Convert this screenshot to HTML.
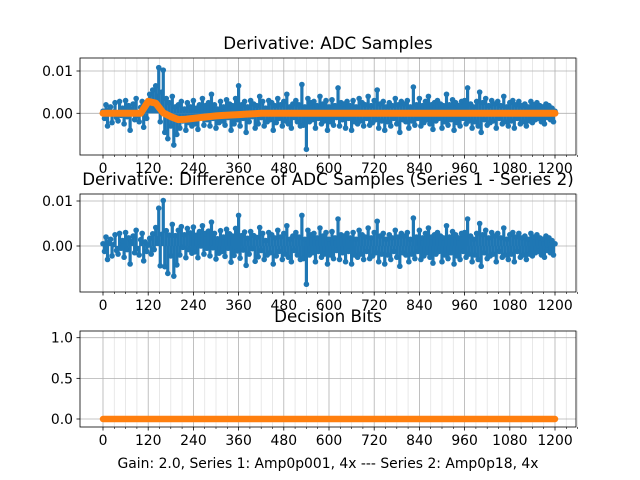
<!DOCTYPE html>
<html><head><meta charset="utf-8"><style>
body{margin:0;background:#fff;}
svg{display:block;font-family:"DejaVu Sans","Liberation Sans",sans-serif;}
</style></head><body>
<svg id="fig" width="640" height="480"></svg>
<script>
const xTicks=[0,120,240,360,480,600,720,840,960,1080,1200];
const s1Ticks=[0.01,0.0],s1TickLabels=["0.01","0.00"];
const s2Ticks=[0.01,0.0],s2TickLabels=["0.01","0.00"];
const s3Ticks=[1.0,0.5,0.0],s3TickLabels=["1.0","0.5","0.0"];
// Series 1 derivative (units of 1e-4), every 4 samples
const blue=[5,-12,20,-30,8,15,-22,3,25,-10,
-18,28,-5,12,-25,30,-8,18,-40,10,
22,-15,35,-6,-20,14,28,-33,9,-12,
30,45,10,55,20,65,40,108,-20,50,
102,-45,35,-60,25,-30,40,-75,15,-50,
20,-35,28,-18,10,-40,25,-22,15,-30,
30,-25,12,-38,20,-10,35,-28,18,-15,
25,-30,45,-12,20,-35,10,-22,28,-18,
15,-28,32,-10,22,-40,18,-25,35,-15,
65,-30,20,-12,28,-45,15,-20,30,-8,
22,-35,18,-25,40,-10,28,-30,12,-20,
30,-15,25,-40,18,-22,35,-12,20,-30,
28,-18,45,-25,15,-35,22,-10,30,-20,
20,-30,68,-28,15,-85,35,-20,25,-15,
28,-35,18,-12,40,-25,22,-18,30,-40,
15,-20,32,-28,18,-10,60,-30,25,-15,
22,-35,28,-12,18,-40,30,-20,15,-25,
35,-18,25,-30,20,-12,40,-28,18,-22,
30,-15,55,-35,22,-18,28,-40,15,-20,
25,-30,18,-12,35,-25,20,-45,28,-15,
22,-20,30,-35,15,-18,62,-28,20,-12,
35,-30,18,-22,28,-15,40,-25,20,-38,
25,-18,30,-12,22,-35,18,-20,45,-28,
20,-15,32,-40,25,-22,18,-30,28,-12,
30,-25,60,-18,22,-35,15,-20,28,-30,
50,-45,25,-15,35,-28,18,-22,30,-18,
22,-35,28,-12,18,-25,40,-20,15,-30,
25,-18,30,-35,20,-12,28,-25,18,-20,
22,-30,15,-18,28,-22,20,-15,25,-12,
18,-20,15,-25,22,-10,18,-15,12,-20,5];
// Series 2 derivative (units of 1e-4), every 20 samples
const orange=[0,0,0,0,0,0,28,24,1,-8,-15,-14,-12,-10,-8,-6,-5,-4,-3,-2,-1,
0,0,0,0,0,0,0,0,0,0,0,0,0,0,0,0,0,0,0,0,0,0,0,0,0,0,0,0,0,0,0,0,0,0,0,0,0,0,0,0];
const bits=[0,0,0,0,0,0,0,0,0,0,0,0,0,0,0,0,0,0,0,0,0,0,0,0,0,0,0,0,0,0,0];
const BSTEP=4,OSTEP=20,DSTEP=40;

const NS="http://www.w3.org/2000/svg";
const svg=document.getElementById('fig');
function mk(t,a,p){const e=document.createElementNS(NS,t);for(const k in a)e.setAttribute(k,a[k]);(p||svg).appendChild(e);return e;}
const X=v=>103+v*(452/1200);
const axes=[
 {top:58,bot:155,y0:113.3,k:42.3/0.01,title:"Derivative: ADC Samples",ty:49,ticks:s1Ticks,tl:s1TickLabels,name:"adc-samples"},
 {top:194,bot:292,y0:246,k:45/0.01,title:"Derivative: Difference of ADC Samples (Series 1 - Series 2)",ty:185,ticks:s2Ticks,tl:s2TickLabels,name:"difference"},
 {top:331,bot:427,y0:419,k:81.3,title:"Decision Bits",ty:322,ticks:s3Ticks,tl:s3TickLabels,name:"decision-bits"}];
axes.forEach((a,ai)=>{
 const g=mk('g',{});
 
 
 const Y=v=>a.y0-v*a.k;
 for(let v=0;v<=1260;v+=30){if(v%120===0)continue;const x=X(v);
  const l=mk('line',{x1:x,x2:x,y1:a.top,y2:a.bot,stroke:'#e3e3e3','stroke-width':0.8},g);
  
  mk('line',{x1:x,x2:x,y1:a.bot,y2:a.bot+2,stroke:'#000','stroke-width':0.6},g);}
 xTicks.forEach(v=>{const x=X(v);
  const l=mk('line',{x1:x,x2:x,y1:a.top,y2:a.bot,stroke:'#b0b0b0','stroke-width':0.8},g);
  
  mk('line',{x1:x,x2:x,y1:a.bot,y2:a.bot+3.5,stroke:'#000','stroke-width':0.8},g);
  const t=mk('text',{x:x,y:a.bot+18,'text-anchor':'middle','font-size':13.9},g);t.textContent=v;
  });
 a.ticks.forEach((v,i)=>{const y=Y(v);
  mk('line',{x1:80,x2:576,y1:y,y2:y,stroke:'#b0b0b0','stroke-width':0.8},g);
  mk('line',{x1:76.5,x2:80,y1:y,y2:y,stroke:'#000','stroke-width':0.8},g);
  const t=mk('text',{x:73,y:y+5,'text-anchor':'end','font-size':13.9},g);t.textContent=a.tl[i];
  });
 if(ai<2){
  const vals=ai===0?blue:blue.map((b,i)=>b-orange[Math.min(orange.length-1,Math.floor(i*BSTEP/OSTEP))]);
  const sg=mk('g',{},g);
  vals.forEach((v,i)=>{const x=X(i*BSTEP),y=Y(v*1e-4);
   mk('line',{x1:x,x2:x,y1:Y(0),y2:y,stroke:'#1f77b4','stroke-width':3.2},sg);
   mk('circle',{cx:x,cy:y,r:2.8,fill:'#1f77b4'},sg);});
  if(ai===0){
   const pts=orange.map((v,i)=>X(i*OSTEP)+','+Y(v*1e-4)).join(' ');
   const p=mk('polyline',{points:pts,fill:'none',stroke:'#ff7f0e','stroke-width':7,'stroke-linejoin':'round','stroke-linecap':'round'},g);
   
  }
 } else {
  const pts=bits.map((v,i)=>X(i*DSTEP)+','+Y(v)).join(' ');
  const p=mk('polyline',{points:pts,fill:'none',stroke:'#ff7f0e','stroke-width':6.5,'stroke-linecap':'round'},g);
  
 }
 mk('rect',{x:80,y:a.top,width:496,height:a.bot-a.top,fill:'none',stroke:'#000','stroke-width':0.8},g);
 const t=mk('text',{x:328,y:a.ty,'text-anchor':'middle','font-size':16.7},g);t.textContent=a.title;
 
});
const xl=mk('text',{x:328,y:468,'text-anchor':'middle','font-size':13.9});
xl.textContent="Gain: 2.0, Series 1: Amp0p001, 4x --- Series 2: Amp0p18, 4x";


</script>
</body></html>
